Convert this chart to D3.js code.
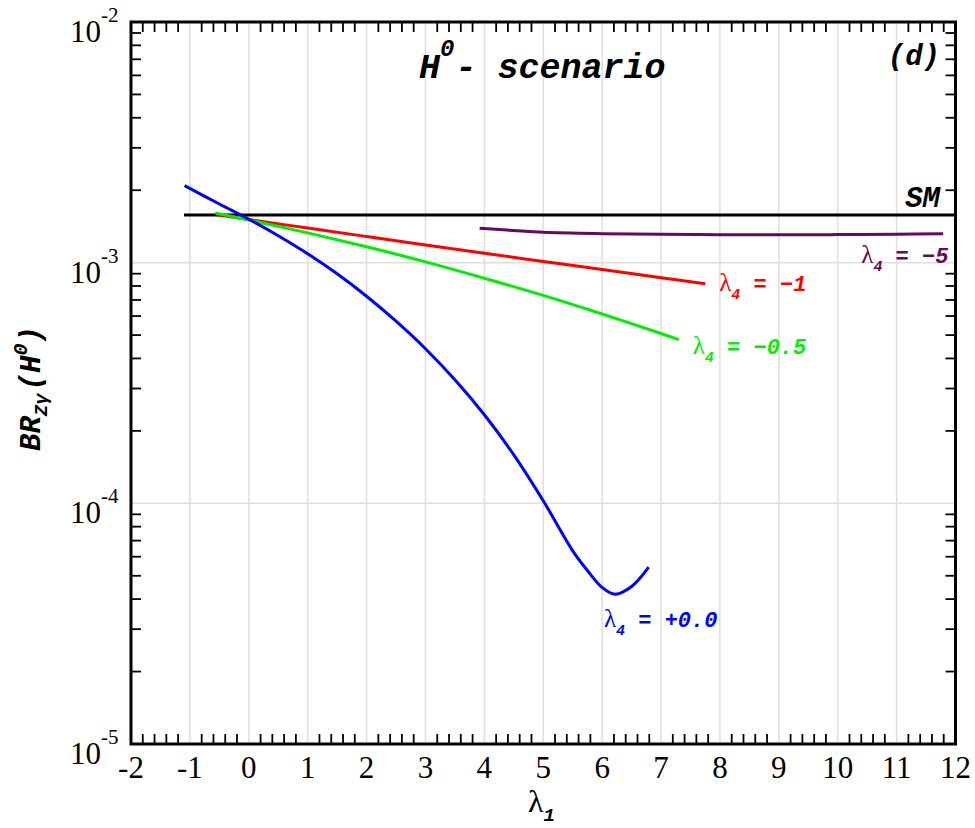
<!DOCTYPE html>
<html>
<head>
<meta charset="utf-8">
<script src="https://d3js.org/d3.v7.min.js"></script>
<style>
    body { margin: 0; background: #fff; }
    .num { font-family: "Liberation Serif", serif; }
    .mono { font-family: "Liberation Mono", monospace; font-weight: bold; font-style: italic; }
</style>
</head>
<body>
<script>
// lambda_1 values and BR values
const smX = [-1.1, 12];
const smY = [1.578e-3, 1.578e-3];

const blueX = [-1.09, -0.5, 0, 0.5, 1, 1.5, 2, 2.5, 3, 3.5, 4, 4.5, 5, 5.5, 5.75, 6, 6.22, 6.5, 6.79];
const blueY = [2.089e-3, 1.753e-3, 1.515e-3, 1.294e-3, 1.089e-3, 8.99e-4, 7.25e-4, 5.71e-4, 4.39e-4, 3.26e-4, 2.333e-4, 1.591e-4, 1.025e-4, 6.35e-5, 5.26e-5, 4.47e-5, 4.19e-5, 4.51e-5, 5.43e-5];

const redX = [-0.55, 0, 1, 2, 3, 4, 5, 6, 7, 7.75];
const redY = [1.583e-3, 1.512e-3, 1.392e-3, 1.284e-3, 1.185e-3, 1.094e-3, 1.012e-3, 9.36e-4, 8.66e-4, 8.18e-4];

const greenX = [-0.57, 0, 1, 2, 3, 4, 5, 6, 7, 7.3];
const greenY = [1.61e-3, 1.504e-3, 1.330e-3, 1.164e-3, 1.008e-3, 8.62e-4, 7.31e-4, 6.12e-4, 5.08e-4, 4.79e-4];

const purpleX = [3.92, 4.5, 5, 6, 7, 8, 9, 10, 11, 11.79];
const purpleY = [1.39e-3, 1.36e-3, 1.337e-3, 1.32e-3, 1.312e-3, 1.307e-3, 1.305e-3, 1.308e-3, 1.313e-3, 1.318e-3];

const xTicks = d3.range(-2, 13);
const yDecades = [-2, -3, -4, -5];

const width = 975, height = 828;
const mLeft = 131, mRight = 955.5, mTop = 22, mBottom = 744;

const svg = d3.select("body").append("svg")
    .attr("width", width)
    .attr("height", height);

const x = d3.scaleLinear().domain([-2, 12]).range([mLeft, mRight]);
const y = d3.scaleLog().domain([1e-5, 1e-2]).range([mBottom, mTop]);

// grid
svg.append("g").selectAll("line")
    .data(xTicks.slice(1, -1))
    .join("line")
    .attr("x1", d => x(d)).attr("x2", d => x(d))
    .attr("y1", mTop).attr("y2", mBottom)
    .attr("stroke", "#dedede").attr("stroke-width", 1.5);
svg.append("g").selectAll("line")
    .data([1e-3, 1e-4])
    .join("line")
    .attr("x1", mLeft).attr("x2", mRight)
    .attr("y1", d => y(d)).attr("y2", d => y(d))
    .attr("stroke", "#dedede").attr("stroke-width", 1.5);

// curves
const line = d3.line()
    .x(d => x(d[0]))
    .y(d => y(d[1]))
    .curve(d3.curveCatmullRom.alpha(0.5));

const series = [
    {xs: smX, ys: smY, color: "#000000"},
    {xs: purpleX, ys: purpleY, color: "#650a55"},
    {xs: redX, ys: redY, color: "#ff0000"},
    {xs: greenX, ys: greenY, color: "#00ee00"},
    {xs: blueX, ys: blueY, color: "#0000ff"}
];
series.forEach(s => {
    svg.append("path")
        .attr("d", line(d3.zip(s.xs, s.ys)))
        .attr("fill", "none")
        .attr("stroke", s.color)
        .attr("stroke-width", 3);
});

// frame
svg.append("rect")
    .attr("x", mLeft).attr("y", mTop)
    .attr("width", mRight - mLeft).attr("height", mBottom - mTop)
    .attr("fill", "none").attr("stroke", "black").attr("stroke-width", 3);

// minor ticks, pointing inward
const xMinor = d3.range(-2, 12, 0.2).filter(v => Math.abs(v - Math.round(v)) > 0.01);
const ticks = svg.append("g").attr("stroke", "black").attr("stroke-width", 1.8);
xMinor.forEach(v => {
    ticks.append("line").attr("x1", x(v)).attr("x2", x(v)).attr("y1", mBottom).attr("y2", mBottom - 10);
    ticks.append("line").attr("x1", x(v)).attr("x2", x(v)).attr("y1", mTop).attr("y2", mTop + 10);
});
const yMinor = [];
[-5, -4, -3].forEach(k => d3.range(2, 10).forEach(m => yMinor.push(m * Math.pow(10, k))));
yMinor.forEach(v => {
    ticks.append("line").attr("x1", mLeft).attr("x2", mLeft + 10).attr("y1", y(v)).attr("y2", y(v));
    ticks.append("line").attr("x1", mRight).attr("x2", mRight - 10).attr("y1", y(v)).attr("y2", y(v));
});

// tick labels
svg.append("g").selectAll("text")
    .data(xTicks)
    .join("text")
    .attr("class", "num")
    .attr("x", d => x(d))
    .attr("y", mBottom + 34)
    .attr("text-anchor", "middle")
    .attr("font-size", 31)
    .text(d => d);

yDecades.forEach(k => {
    const t = svg.append("text")
        .attr("class", "num")
        .attr("x", 70)
        .attr("y", y(Math.pow(10, k)) + 20)
        .attr("font-size", 31);
    t.append("tspan").text("10");
    t.append("tspan").attr("font-size", 21).attr("dy", -20).text(k);
});

// axis titles
const xt = svg.append("text").attr("x", 528).attr("y", 812);
xt.append("tspan").attr("class", "num").attr("font-size", 32).text("λ");
xt.append("tspan").attr("class", "mono").attr("font-size", 19).attr("dy", 9).text("1");

const yt = svg.append("text")
    .attr("class", "mono")
    .attr("font-size", 29)
    .attr("transform", "translate(40,451) rotate(-90)");
yt.append("tspan").text("BR");
yt.append("tspan").attr("font-size", 19).attr("dy", 7).text("Zγ");
yt.append("tspan").attr("dy", -7).attr("dx", 3).text("(H");
yt.append("tspan").attr("font-size", 20).attr("dy", -13).text("0");
yt.append("tspan").attr("dy", 13).text(")");

// annotations
const title = svg.append("text").attr("class", "mono").attr("x", 419).attr("y", 78).attr("font-size", 35);
title.append("tspan").text("H");
title.append("tspan").attr("font-size", 24).attr("dy", -22).text("0");
title.append("tspan").attr("dy", 22).attr("dx", 1).text("- scenario");

svg.append("text").attr("class", "mono").attr("x", 940).attr("y", 65)
    .attr("text-anchor", "end").attr("font-size", 29).text("(d)");
svg.append("text").attr("class", "mono").attr("x", 940).attr("y", y(smY[1]) - 8)
    .attr("text-anchor", "end").attr("font-size", 29).text("SM");

function lamLabel(px, py, rest, color) {
    const t = svg.append("text").attr("x", px).attr("y", py).attr("fill", color);
    t.append("tspan").attr("class", "num").attr("font-size", 25).text("λ");
    t.append("tspan").attr("class", "mono").attr("font-size", 15).attr("dy", 8).text("4");
    t.append("tspan").attr("class", "mono").attr("font-size", 22).attr("dy", -8).text(rest);
}
lamLabel(x(redX[redX.length - 1]) + 14, y(redY[redY.length - 1]) + 7, " = −1", "#ff0000");
lamLabel(x(greenX[greenX.length - 1]) + 14, y(greenY[greenY.length - 1]) + 14, " = −0.5", "#00ee00");
lamLabel(x(6.03), y(3.07e-5), " = +0.0", "#0000ff");
lamLabel(x(10.4), y(1.0e-3), " = −5", "#650a55");
</script>
</body>
</html>
